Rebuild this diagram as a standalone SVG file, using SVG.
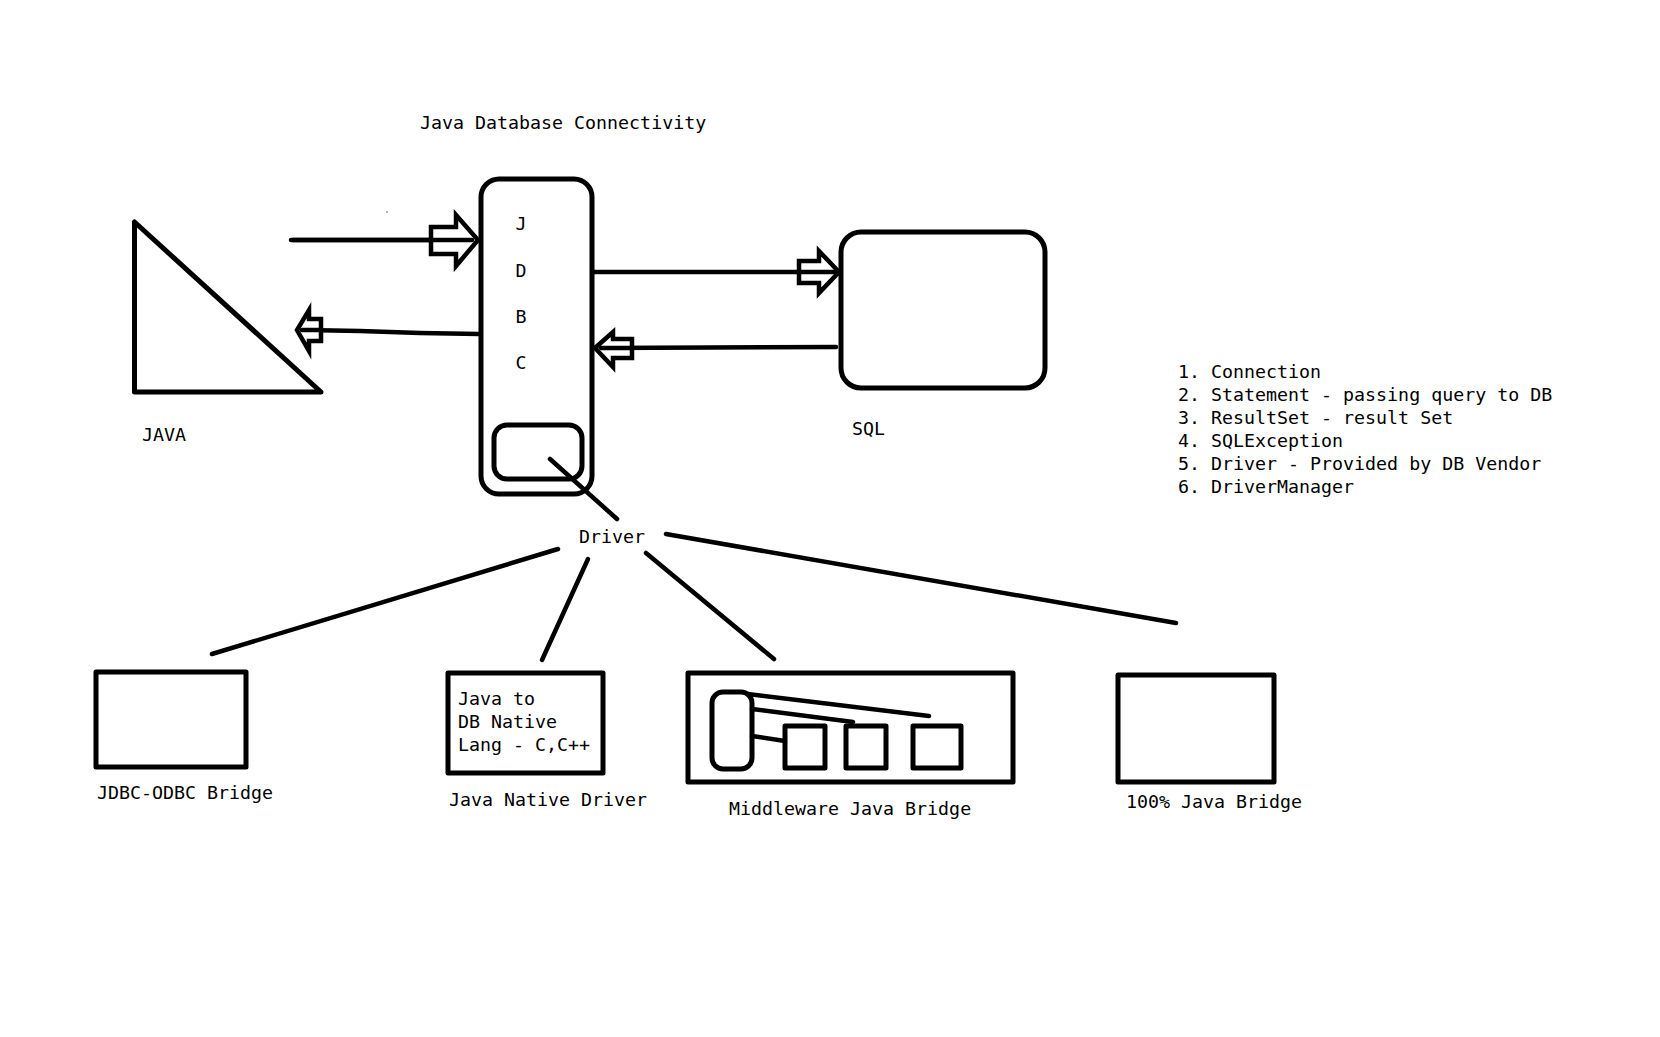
<svg xmlns="http://www.w3.org/2000/svg" width="1660" height="1037" viewBox="0 0 1660 1037">
<style>
.s{fill:none;stroke:#000;stroke-width:5;stroke-linejoin:round;stroke-linecap:round}
.l{fill:none;stroke:#000;stroke-width:4.5;stroke-linecap:round}
.a{fill:#fff;stroke:#000;stroke-width:4.5;stroke-linejoin:miter}
text{font-family:"DejaVu Sans Mono","Liberation Mono",monospace;font-size:18.3px;fill:#000}
</style>
<rect width="1660" height="1037" fill="#fff"/>
<text x="420" y="128.5">Java Database Connectivity</text>
<circle cx="387" cy="212" r="0.8" fill="#555"/>
<g id="connectors">
  <line class="l" x1="291" y1="240" x2="470" y2="240"/>
  <polygon class="a" points="431,227 456,227 456,215 478,240 456,266 456,254 431,254"/>
  <line class="l" x1="293" y1="240" x2="472" y2="240"/>
  <polyline class="l" points="479,334 420,333 360,331 305,330"/>
  <polygon class="a" points="321,319 309,319 309,310 297,330 309,351 309,341 321,341"/>
  <line class="l" x1="321" y1="330" x2="302" y2="330"/>
  <line class="l" x1="592" y1="272" x2="834" y2="272"/>
  <polygon class="a" points="799,261 819,261 819,251 839,272 819,293 819,283 799,283"/>
  <line class="l" x1="799" y1="272" x2="834" y2="272"/>
  <line class="l" x1="836" y1="347" x2="600" y2="348"/>
  <polygon class="a" points="632,339 613,339 613,332 595,348 613,367 613,358 632,358"/>
  <line class="l" x1="632" y1="348" x2="601" y2="348"/>
  <line class="l" x1="550" y1="459" x2="617" y2="519"/>
  <line class="l" x1="558" y1="549" x2="212" y2="654"/>
  <line class="l" x1="588" y1="559" x2="542" y2="660"/>
  <line class="l" x1="646" y1="553" x2="774" y2="659"/>
  <line class="l" x1="666" y1="534" x2="1176" y2="623"/>
</g>
<g id="java">
  <polygon class="s" points="134.5,222 134.5,392 321,392" stroke-linejoin="miter"/>
  <text x="142" y="440.5">JAVA</text>
</g>
<g id="jdbc">
  <rect class="s" x="481" y="179" width="111" height="315" rx="18"/>
  <text x="521" y="229.5" text-anchor="middle">J</text>
  <text x="521" y="276.5" text-anchor="middle">D</text>
  <text x="521" y="322.5" text-anchor="middle">B</text>
  <text x="521" y="368.5" text-anchor="middle">C</text>
  <rect class="s" x="494" y="425" width="88" height="54" rx="13"/>
</g>
<g id="sql">
  <rect class="s" x="841" y="232" width="204" height="156" rx="20"/>
  <text x="852" y="434.5">SQL</text>
</g>
<g id="driver">
  <text x="579" y="543">Driver</text>
</g>
<g id="list">
  <text x="1178" y="378">1. Connection</text>
  <text x="1178" y="401">2. Statement - passing query to DB</text>
  <text x="1178" y="424">3. ResultSet - result Set</text>
  <text x="1178" y="447">4. SQLException</text>
  <text x="1178" y="470">5. Driver - Provided by DB Vendor</text>
  <text x="1178" y="493">6. DriverManager</text>
</g>
<g id="jdbc-odbc">
  <rect class="s" x="96" y="672" width="150" height="95" stroke-linejoin="miter"/>
  <text x="97" y="798.5">JDBC-ODBC Bridge</text>
</g>
<g id="native">
  <rect class="s" x="448" y="673" width="155" height="100" stroke-linejoin="miter"/>
  <text x="458" y="704.5">Java to</text>
  <text x="458" y="727.5">DB Native</text>
  <text x="458" y="750.5">Lang - C,C++</text>
  <text x="449" y="805.5">Java Native Driver</text>
</g>
<g id="middleware">
  <rect class="s" x="688" y="673" width="325" height="109" stroke-linejoin="miter"/>
  <rect class="s" x="712" y="692" width="40" height="77" rx="11"/>
  <rect class="s" x="785" y="726" width="40" height="42" stroke-linejoin="miter"/>
  <rect class="s" x="846" y="726" width="40" height="42" stroke-linejoin="miter"/>
  <rect class="s" x="913" y="726" width="48" height="42" stroke-linejoin="miter"/>
  <line class="l" x1="748" y1="694" x2="929" y2="716"/>
  <line class="l" x1="752" y1="709" x2="853" y2="722"/>
  <line class="l" x1="752" y1="736" x2="785" y2="741"/>
  <text x="729" y="814.5">Middleware Java Bridge</text>
</g>
<g id="pure-java">
  <rect class="s" x="1118" y="675" width="156" height="107" stroke-linejoin="miter"/>
  <text x="1126" y="807.5">100% Java Bridge</text>
</g>
</svg>
